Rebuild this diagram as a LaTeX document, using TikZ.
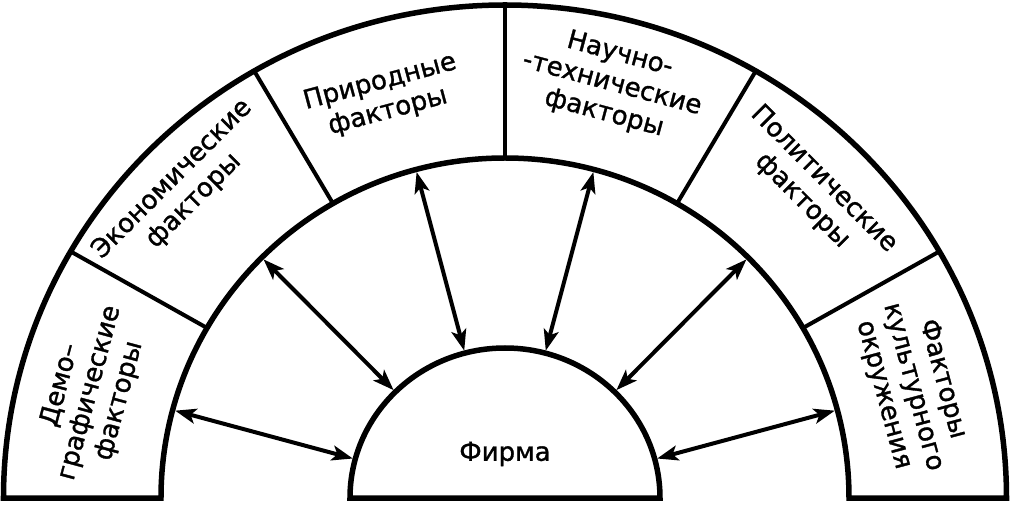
\documentclass[tikz,border=0pt]{standalone}
\usepackage{fontspec}
\setmainfont[FakeBold=1.2]{DejaVu Sans}
\usetikzlibrary{arrows.meta}
\begin{document}
\begin{tikzpicture}[x=1pt,y=1pt,
  arcline/.style={line width=5.5pt, line join=miter},
  divline/.style={line width=4pt},
  biarrow/.style={line width=4pt, shorten <=2.5pt, shorten >=2.5pt,
    {Stealth[length=21pt,width=15pt,inset=5pt]}-{Stealth[length=21pt,width=15pt,inset=5pt]}},
  lbl/.style={font=\fontsize{26}{30.5}\selectfont, align=center, inner sep=0pt}
]
\useasboundingbox (-505,-8) rectangle (509,498);
\def\Ra{501.5}\def\Rb{493}
\def\Ma{344}\def\Mb{340}
\def\Ia{155}\def\Ib{150}
% outer band
\draw[arcline] (-\Ra,0) arc[start angle=180,end angle=0,x radius=\Ra,y radius=\Rb]
  -- (\Ma,0) arc[start angle=0,end angle=180,x radius=\Ma,y radius=\Mb] -- cycle;
% firm
\draw[arcline] (-\Ia,0) arc[start angle=180,end angle=0,x radius=\Ia,y radius=\Ib] -- cycle;
% dividers
\foreach \t in {30,60,90,120,150}
  \draw[divline] ({\Ma*cos(\t)},{\Mb*sin(\t)}) -- ({\Ra*cos(\t)},{\Rb*sin(\t)});
% arrows
\foreach \t/\n in {15/a,45/b,75/c,105/d,135/e,165/f}{
  \coordinate (o\n) at ({\Ma*cos(\t)},{\Mb*sin(\t)});
  \coordinate (i\n) at ({\Ia*cos(\t)},{\Ib*sin(\t)});
  \draw[biarrow] (o\n) -- (i\n);
}
% labels
\node[lbl] (firm) at (0,44) {Фирма};
\node[lbl, rotate=75] (demo) at (-415,105) {Демо–\\графические\\факторы};
\node[lbl, rotate=45] (econ) at (-322,308) {Экономические\\факторы};
\node[lbl, rotate=15] (nat) at (-121,401) {Природные\\факторы};
\node[lbl, rotate=-15] (sci) at (107,414) {Научно-\\-технические\\факторы};
\node[lbl, rotate=-45] (pol) at (308,308) {Политические\\факторы};
\node[lbl, rotate=-75] (cult) at (408,111) {Факторы\\культурного\\окружения};
\end{tikzpicture}
\end{document}
